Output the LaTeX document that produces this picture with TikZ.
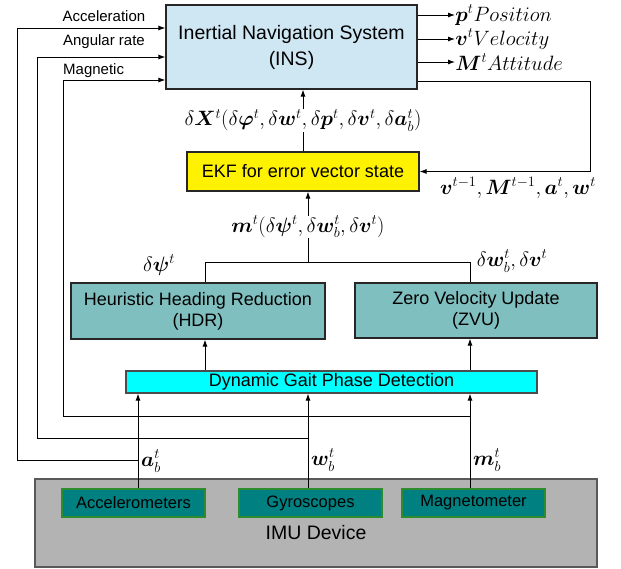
\documentclass[tikz,border=0pt]{standalone}
\usepackage{fontspec}
\setmainfont{Liberation Sans}
\usepackage{amsmath}
\usepackage{bm}
\usetikzlibrary{arrows.meta}

\definecolor{insblue}{HTML}{CFE6F3}
\definecolor{tealbox}{HTML}{80BFBF}
\definecolor{gaitcyan}{HTML}{00FFFF}
\definecolor{sensorfill}{HTML}{008080}
\definecolor{sensorline}{HTML}{2E8B2E}
\definecolor{imugray}{HTML}{B3B3B3}

\begin{document}
\begin{tikzpicture}[x=1pt, y=-1pt,
    box/.style={draw=black!85, line width=1.2pt, align=center, inner sep=0pt,
                font=\fontsize{18}{21}\selectfont},
    sensor/.style={draw=sensorline, fill=sensorfill, line width=1.2pt, inner sep=0pt,
                   minimum width=143pt, minimum height=28pt,
                   font=\fontsize{16.5}{19}\selectfont},
    arr/.style={-{Latex[length=7pt,width=5pt]}, line width=0.9pt},
    line/.style={line width=0.9pt},
    lbl/.style={font=\fontsize{15}{18}\selectfont, inner sep=0pt},
    mth/.style={font=\fontsize{22.5}{24}\selectfont, inner sep=1pt},
    outp/.style={font=\fontsize{22}{24}\selectfont, inner sep=0pt, anchor=west}]
    \useasboundingbox (0,0) rectangle (621,568);

    % boxes
    \node[box, fill=insblue, minimum width=251pt, minimum height=84pt,
          font=\fontsize{19.5}{26}\selectfont] (ins) at (291.5,47)
          {Inertial Navigation System\\(INS)};
    \node[box, fill=yellow, minimum width=232pt, minimum height=39pt] (ekf) at (303,171.5)
          {EKF for error vector state};
    \node[box, fill=tealbox, minimum width=254pt, minimum height=56pt] (hdr) at (198,311)
          {Heuristic Heading Reduction\\(HDR)};
    \node[box, fill=tealbox, minimum width=242pt, minimum height=55pt] (zvu) at (476,310.5)
          {Zero Velocity Update\\(ZVU)};
    \node[box, fill=gaitcyan, draw=black!70, minimum width=411pt, minimum height=22pt] (dgpd) at (331.5,382)
          {Dynamic Gait Phase Detection};
    \node[draw=black!65, fill=imugray, line width=1.2pt, minimum width=562pt, minimum height=88pt] (imu) at (316,523) {};
    \node[font=\fontsize{19.5}{22}\selectfont] (imutext) at (316,533) {IMU Device};
    \node[sensor] (acc)  at (133.5,503) {Accelerometers};
    \node[sensor] (gyro) at (310.5,503) {Gyroscopes};
    \node[sensor] (mag)  at (473.5,503) {Magnetometer};

    % columns and junctions
    \coordinate (ca) at (138,0);
    \coordinate (cg) at (308,0);
    \coordinate (cm) at (470,0);
    \coordinate (cl) at (205,0);
    \coordinate (ja) at (138,460);
    \coordinate (jg) at (308,438);
    \coordinate (jm) at (470,416);
    \coordinate (jt) at (308,262);
    \coordinate (fb) at (590,81);

    % sensors to gait detection
    \draw[arr] (acc.north -| ca)  -- (dgpd.south -| ca);
    \draw[arr] (gyro.north -| cg) -- (dgpd.south -| cg);
    \draw[arr] (mag.north -| cm)  -- (dgpd.south -| cm);
    \node[mth, anchor=west] (ab) at (140,461) {$\bm{a}_b^t$};
    \node[mth, anchor=west] (wb) at (310,460) {$\bm{w}_b^t$};
    \node[mth, anchor=west] (mb) at (472,460) {$\bm{m}_b^t$};

    % raw signals to INS
    \draw[arr] (ja) -| (17,28) -- (ins.west |- 0,28);
    \draw[arr] (jg) -| (37,57) -- (ins.west |- 0,57);
    \draw[arr] (jm) -| (63,80) -- (ins.west |- 0,80);
    \node[lbl] (acctext) at (104,16) {Acceleration};
    \node[lbl] (angtext) at (104,42) {Angular rate};
    \node[lbl, anchor=west] (magtext) at (63,71) {Magnetic};

    % gait detection to HDR / ZVU
    \draw[arr] (dgpd.north -| cl) -- (hdr.south -| cl);
    \draw[arr] (dgpd.north -| cm) -- (zvu.south -| cm);
    \draw[line] (hdr.north -| cl) -- (cl |- jt) -- (cm |- jt) -- (zvu.north -| cm);
    \node[mth] (dpsi) at (159,265) {$\delta\bm{\psi}^t$};
    \node[mth] (dwv) at (512,261) {$\delta\bm{w}_b^t,\delta\bm{v}^t$};

    % measurements to EKF
    \draw[arr] (jt) -- (ekf.south -| jt)
        node[mth, midway, fill=white, inner sep=0pt] (meas) {$\bm{m}^t(\delta\bm{\psi}^t,\delta\bm{w}_b^t,\delta\bm{v}^t)$};

    % EKF to INS
    \draw[arr] (ekf.north) -- (ins.south -| ekf.north)
        node[mth, midway, fill=white, inner sep=0pt] (dx) {$\delta\bm{X}^t(\delta\bm{\varphi}^t,\delta\bm{w}^t,\delta\bm{p}^t,\delta\bm{v}^t,\delta\bm{a}_b^t)$};

    % feedback INS to EKF
    \draw[arr] (ins.east |- fb) -- (fb) |- (ekf.east);
    \node[mth] (prev) at (518,188) {$\bm{v}^{t-1},\bm{M}^{t-1},\bm{a}^t,\bm{w}^t$};

    % outputs
    \draw[arr] (ins.east |- 0,15) -- (455,15) node[outp] (pos) {$\bm{p}^tPosition$};
    \draw[arr] (ins.east |- 0,39) -- (455,39) node[outp] (vel) {$\bm{v}^tVelocity$};
    \draw[arr] (ins.east |- 0,62) -- (455,62) node[outp] (att) {$\bm{M}^tAttitude$};
\end{tikzpicture}
\end{document}
